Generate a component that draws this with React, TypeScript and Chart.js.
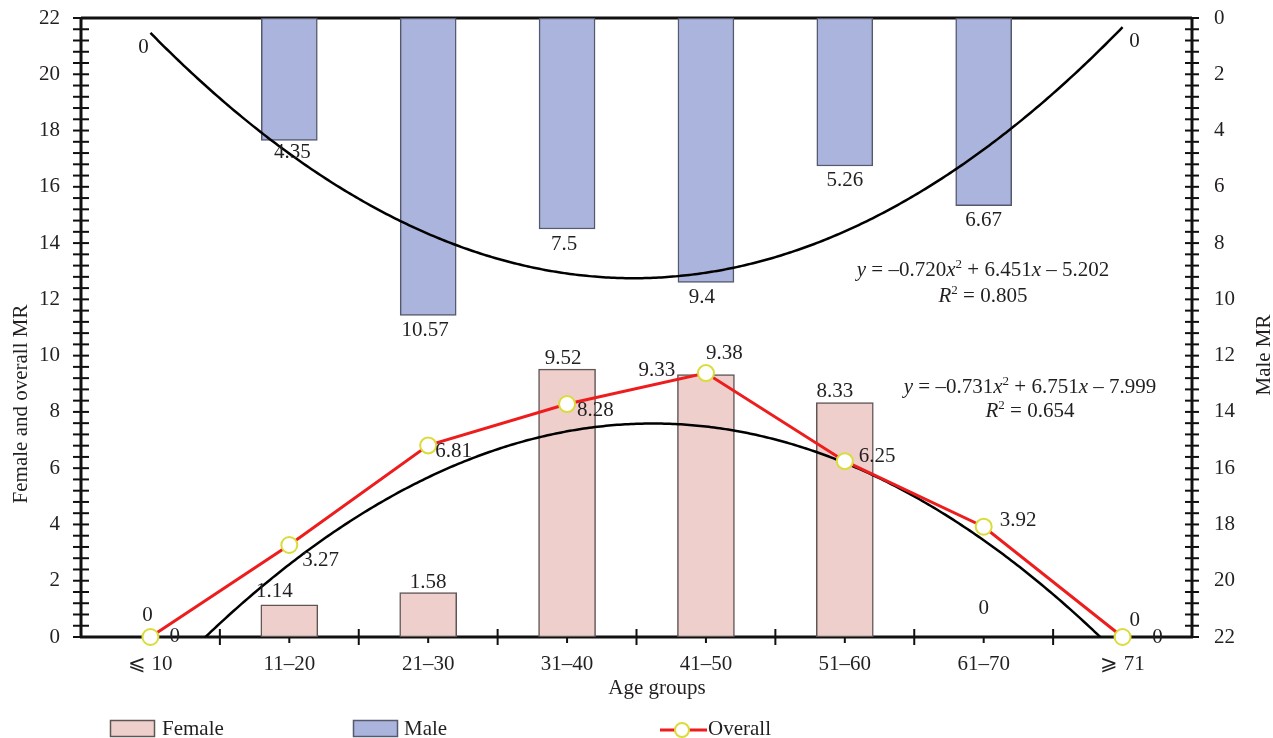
import React, { useEffect, useRef } from "react";
import { Chart, registerables } from "chart.js";

Chart.register(...registerables);

// ---------------- data ----------------
const categories = ["⩽ 10", "11–20", "21–30", "31–40", "41–50", "51–60", "61–70", "⩾ 71"];
const femaleMR = [0, 1.14, 1.58, 9.52, 9.33, 8.33, 0, 0];
const maleMR = [0, 4.35, 10.57, 7.5, 9.4, 5.26, 6.67, 0];
const overallMR = [0, 3.27, 6.81, 8.28, 9.38, 6.25, 3.92, 0];
// quadratic fits shown on the chart: y = a x^2 + b x + c
const maleFitCoef = [-0.72, 6.451, -5.202];
const maleFitR2 = 0.805;
const overallFitCoef = [-0.731, 6.751, -7.999];
const overallFitR2 = 0.654;
const axisMax = 22;
const axisStep = 2;
const minorStep = 0.4;

// ---------------- styling ----------------
const FONT = "'Liberation Serif', 'Times New Roman', Times, serif";
const TEXT = "#231f20";
const FS = 21;
const femaleFill = "#efcfcc";
const femaleBorder = "#5f5555";
const maleFill = "#aab4dd";
const maleBorder = "#55596e";
const redLine = "#ee1d1d";
const markerBorder = "#d9dc3a";

// label offsets [dx, dy] in px (purely placement)
const femaleLabelOffsets = [[-3, -16], [-15, -8], [0, -5], [-4, -5], [-49, 2], [-10, -6], [0, -23], [35, 6]];
const maleLabelOffsets = [[-7, 35], [3, 18], [-3, 21], [-3, 21], [-4, 21], [0, 20], [0, 20], [12, 29]];
const overallLabelOffsets = [[19, 5], [13, 21], [7, 12], [10, 12], [0, -14], [14, 1], [16, -1], [7, -11]];

const fitCurve = (c: number[]) => {
  const pts: { x: number; y: number }[] = [];
  for (let k = 0; k <= 350; k++) {
    const x = 1 + k * 0.02;
    pts.push({ x, y: c[0] * x * x + c[1] * x + c[2] });
  }
  return pts;
};

const signed = (v: number, first: boolean) => {
  const s = Math.abs(v).toFixed(3);
  if (first) return (v < 0 ? "–" : "") + s;
  return (v < 0 ? " – " : " + ") + s;
};

type Part = { t: string; italic?: boolean; sup?: boolean };

const drawRich = (ctx: CanvasRenderingContext2D, parts: Part[], cx: number, baseline: number) => {
  const fontFor = (p: Part) =>
    `${p.italic ? "italic " : ""}${p.sup ? 13 : FS}px ${FONT}`;
  let total = 0;
  const widths = parts.map((p) => {
    ctx.font = fontFor(p);
    const w = ctx.measureText(p.t).width;
    total += w;
    return w;
  });
  let x = cx - total / 2;
  ctx.textAlign = "left";
  ctx.textBaseline = "alphabetic";
  parts.forEach((p, i) => {
    ctx.font = fontFor(p);
    ctx.fillText(p.t, x, p.sup ? baseline - 8 : baseline);
    x += widths[i];
  });
};

const eqParts = (c: number[]): Part[] => [
  { t: "y", italic: true },
  { t: " = " + signed(c[0], true) },
  { t: "x", italic: true },
  { t: "2", sup: true },
  { t: signed(c[1], false) },
  { t: "x", italic: true },
  { t: signed(c[2], false) },
];
const r2Parts = (r: number): Part[] => [
  { t: "R", italic: true },
  { t: "2", sup: true },
  { t: " = " + r.toFixed(3) },
];

const customPlugin = {
  id: "customDraw",
  beforeDatasetsDraw(chart: any) {
    const ctx: CanvasRenderingContext2D = chart.ctx;
    const { left, right, top, bottom } = chart.chartArea;
    const y = chart.scales.y;
    const y2 = chart.scales.y2;
    const x = chart.scales.x;
    ctx.save();
    ctx.strokeStyle = "#111";
    ctx.lineCap = "butt";
    ctx.lineWidth = 2;
    const n = Math.round(axisMax / minorStep);
    for (let i = 0; i <= n; i++) {
      const v = i * minorStep;
      const py = y.getPixelForValue(v);
      ctx.beginPath();
      ctx.moveTo(left - 8, py);
      ctx.lineTo(left + 8, py);
      ctx.stroke();
      const py2 = y2.getPixelForValue(v);
      ctx.beginPath();
      ctx.moveTo(right - 7, py2);
      ctx.lineTo(right + 7, py2);
      ctx.stroke();
    }
    for (let i = 1; i < categories.length; i++) {
      const px = x.getPixelForValue(i + 0.5);
      ctx.beginPath();
      ctx.moveTo(px, bottom - 8);
      ctx.lineTo(px, bottom + 8);
      ctx.stroke();
    }
    for (let i = 1; i <= categories.length; i++) {
      const px = x.getPixelForValue(i);
      ctx.beginPath();
      ctx.moveTo(px, bottom);
      ctx.lineTo(px, bottom + 6);
      ctx.stroke();
    }
    ctx.lineWidth = 3;
    ctx.beginPath();
    ctx.moveTo(left, top);
    ctx.lineTo(right, top);
    ctx.moveTo(left, top);
    ctx.lineTo(left, bottom);
    ctx.moveTo(right, top);
    ctx.lineTo(right, bottom);
    ctx.moveTo(left - 1, bottom);
    ctx.lineTo(right + 1, bottom);
    ctx.stroke();
    ctx.restore();
  },
  afterDraw(chart: any) {
    const ctx: CanvasRenderingContext2D = chart.ctx;
    const x = chart.scales.x;
    const y = chart.scales.y;
    const y2 = chart.scales.y2;
    ctx.save();
    ctx.fillStyle = TEXT;
    ctx.font = `${FS}px ${FONT}`;
    ctx.textBaseline = "alphabetic";

    ctx.textAlign = "center";
    femaleMR.forEach((v, i) => {
      const [dx, dy] = femaleLabelOffsets[i];
      ctx.fillText(String(v), x.getPixelForValue(i + 1) + dx, y.getPixelForValue(v) + dy);
    });
    maleMR.forEach((v, i) => {
      const [dx, dy] = maleLabelOffsets[i];
      ctx.fillText(String(v), x.getPixelForValue(i + 1) + dx, y2.getPixelForValue(v) + dy);
    });
    ctx.textAlign = "left";
    overallMR.forEach((v, i) => {
      const [dx, dy] = overallLabelOffsets[i];
      ctx.fillText(String(v), x.getPixelForValue(i + 1) + dx, y.getPixelForValue(v) + dy);
    });

    drawRich(ctx, eqParts(maleFitCoef), 983, 276);
    drawRich(ctx, r2Parts(maleFitR2), 983, 302);
    drawRich(ctx, eqParts(overallFitCoef), 1030, 393);
    drawRich(ctx, r2Parts(overallFitR2), 1030, 417);

    ctx.font = `${FS}px ${FONT}`;
    ctx.textAlign = "center";
    ctx.textBaseline = "middle";
    ctx.save();
    ctx.translate(21, 404);
    ctx.rotate(-Math.PI / 2);
    ctx.fillText("Female and overall MR", 0, 0);
    ctx.restore();
    ctx.save();
    ctx.translate(1264, 355);
    ctx.rotate(-Math.PI / 2);
    ctx.fillText("Male MR", 0, 0);
    ctx.restore();
    ctx.textBaseline = "alphabetic";
    ctx.fillText("Age groups", 657, 694);

    ctx.lineWidth = 1.5;
    ctx.fillStyle = femaleFill;
    ctx.strokeStyle = femaleBorder;
    ctx.fillRect(110.5, 720.5, 44, 16);
    ctx.strokeRect(110.5, 720.5, 44, 16);
    ctx.fillStyle = maleFill;
    ctx.strokeStyle = maleBorder;
    ctx.fillRect(353.5, 720.5, 44, 16);
    ctx.strokeRect(353.5, 720.5, 44, 16);
    ctx.strokeStyle = redLine;
    ctx.lineWidth = 3;
    ctx.beginPath();
    ctx.moveTo(660, 730);
    ctx.lineTo(707, 730);
    ctx.stroke();
    ctx.beginPath();
    ctx.arc(682, 730, 7, 0, Math.PI * 2);
    ctx.fillStyle = "#fff";
    ctx.fill();
    ctx.strokeStyle = markerBorder;
    ctx.lineWidth = 2;
    ctx.stroke();
    ctx.fillStyle = TEXT;
    ctx.font = `${FS}px ${FONT}`;
    ctx.textAlign = "left";
    ctx.fillText("Female", 162, 735);
    ctx.fillText("Male", 404, 735);
    ctx.fillText("Overall", 708, 735);
    ctx.restore();
  },
};

export default function App() {
  const ref = useRef<HTMLCanvasElement>(null);
  useEffect(() => {
    document.body.style.margin = "0";
    document.body.style.overflow = "hidden";
    const canvas = ref.current!;
    const tickFont = { family: FONT, size: FS };
    const vFit = (s: any) => {
      s.width = 81;
      s.paddingTop = 0;
      s.paddingBottom = 0;
    };
    const chart = new Chart(canvas, {
      type: "bar",
      data: {
        datasets: [
          {
            type: "line",
            label: "Overall",
            data: overallMR.map((v, i) => ({ x: i + 1, y: v })),
            yAxisID: "y",
            borderColor: redLine,
            borderWidth: 3,
            pointRadius: 8,
            pointBackgroundColor: "#ffffff",
            pointBorderColor: markerBorder,
            pointBorderWidth: 2,
            order: 0,
            clip: false,
            tension: 0,
          } as any,
          {
            type: "line",
            label: "Female/overall fit",
            data: fitCurve(overallFitCoef),
            yAxisID: "y",
            borderColor: "#000",
            borderWidth: 2.5,
            pointRadius: 0,
            order: 1,
          } as any,
          {
            type: "line",
            label: "Male fit",
            data: fitCurve(maleFitCoef),
            yAxisID: "y2",
            borderColor: "#000",
            borderWidth: 2.5,
            pointRadius: 0,
            order: 1,
          } as any,
          {
            type: "bar",
            label: "Female",
            data: femaleMR.map((v, i) => ({ x: i + 1, y: v })),
            yAxisID: "y",
            backgroundColor: femaleFill,
            borderColor: femaleBorder,
            borderWidth: 1.5,
            borderSkipped: false,
            barThickness: 57,
            grouped: false,
            order: 2,
          } as any,
          {
            type: "bar",
            label: "Male",
            data: maleMR.map((v, i) => ({ x: i + 1, y: v })),
            yAxisID: "y2",
            backgroundColor: maleFill,
            borderColor: maleBorder,
            borderWidth: 1.5,
            borderSkipped: false,
            barThickness: 56,
            grouped: false,
            order: 2,
          } as any,
        ],
      },
      options: {
        responsive: false,
        animation: false,
        events: [],
        layout: { padding: { top: 18, left: 0, right: 0, bottom: 0 } },
        plugins: { legend: { display: false }, tooltip: { enabled: false } },
        scales: {
          x: {
            type: "linear",
            min: 0.5,
            max: 8.5,
            offset: false,
            grid: { display: false },
            border: { display: false },
            afterBuildTicks: (s: any) => {
              s.ticks = categories.map((_, i) => ({ value: i + 1 }));
            },
            afterFit: (s: any) => {
              s.height = 101;
              s.paddingLeft = 0;
              s.paddingRight = 0;
            },
            ticks: {
              autoSkip: false,
              maxRotation: 0,
              padding: 7,
              color: TEXT,
              font: tickFont,
              callback: (v: any) => categories[Math.round(Number(v)) - 1] ?? "",
            },
          },
          y: {
            type: "linear",
            position: "left",
            min: 0,
            max: axisMax,
            grid: { display: false },
            border: { display: false },
            afterFit: vFit,
            ticks: { stepSize: axisStep, padding: 13, color: TEXT, font: tickFont },
          },
          y2: {
            type: "linear",
            position: "right",
            reverse: true,
            min: 0,
            max: axisMax,
            grid: { display: false },
            border: { display: false },
            afterFit: vFit,
            ticks: { stepSize: axisStep, padding: 14, color: TEXT, font: tickFont },
          },
        },
      } as any,
      plugins: [customPlugin],
    });
    return () => chart.destroy();
  }, []);
  return (
    <div style={{ width: 1273, height: 738 }}>
      <canvas ref={ref} width={1273} height={738} style={{ display: "block" }} />
    </div>
  );
}
